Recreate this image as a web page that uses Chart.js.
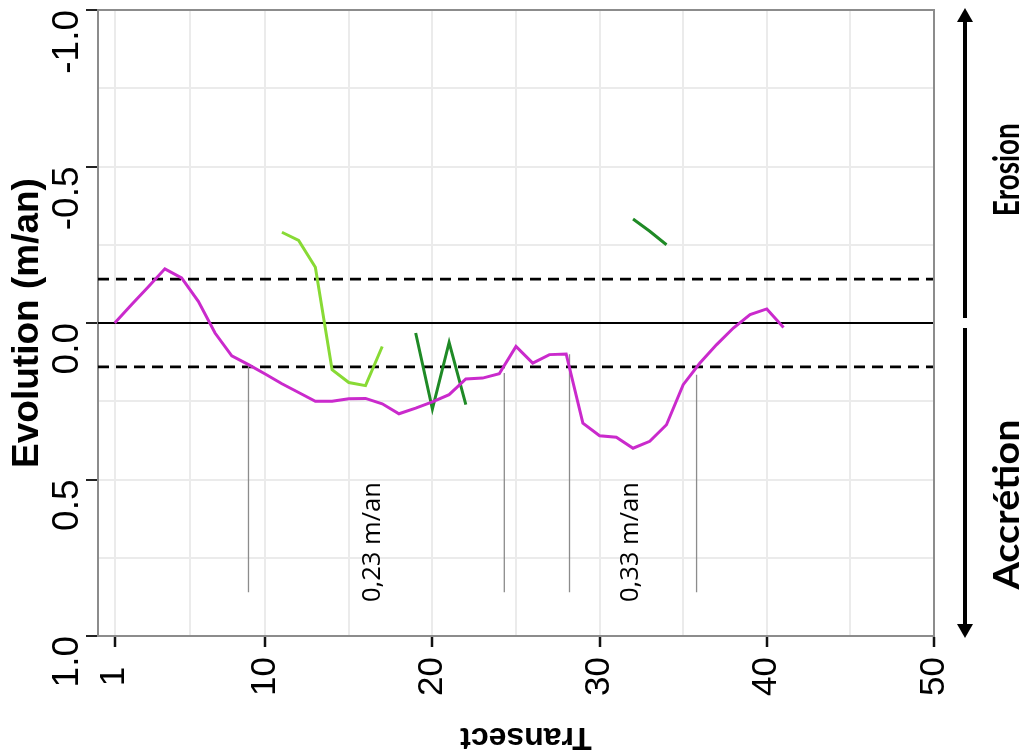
<!DOCTYPE html>
<html>
<head>
<meta charset="utf-8">
<script src="https://cdn.jsdelivr.net/npm/chart.js@4.4.1/dist/chart.umd.min.js"></script>
<style>
  body { margin: 0; background: #fff; }
  #chart { display: block; }
</style>
</head>
<body>
<canvas id="chart" width="1030" height="756"></canvas>
<script>
// transects and yearly shoreline evolution (m/an), negative = erosion
const transects = [1, 2, 3, 4, 5, 6, 7, 8, 9, 10, 11, 12, 13, 14, 15, 16, 17, 18, 19, 20,
    21, 22, 23, 24, 25, 26, 27, 28, 29, 30, 31, 32, 33, 34, 35, 36, 37, 38, 39, 40, 41];
const evolution = [0.0, -0.058, -0.115, -0.173, -0.144, -0.069, 0.032, 0.105, 0.133, 0.163,
    0.194, 0.222, 0.25, 0.25, 0.242, 0.241, 0.258, 0.29, 0.272, 0.252,
    0.229, 0.179, 0.176, 0.162, 0.075, 0.128, 0.101, 0.099, 0.32, 0.36,
    0.365, 0.4, 0.378, 0.325, 0.197, 0.128, 0.069, 0.016, -0.027, -0.045, 0.014];

const transectsLight = [11, 12, 13, 14, 15, 16, 17];
const evolutionLight = [-0.29, -0.264, -0.178, 0.149, 0.19, 0.2, 0.075];

const transectsDarkA = [19, 20, 21, 22];
const evolutionDarkA = [0.032, 0.275, 0.062, 0.261];

const transectsDarkB = [32, 33, 34];
const evolutionDarkB = [-0.332, -0.293, -0.25];

const thresholds = [-0.14, 0.14];

const xTickLabels = [1, 10, 20, 30, 40, 50];
const xGridValues = [1, 5.5, 10, 15, 20, 25, 30, 35, 40, 45, 50];
const yTickLabels = [-1, -0.5, 0, 0.5, 1];

// thin grey markers around the accretion stretches
const markerTransects = [9, 24.3, 28.2, 35.8];
const markerTops = [0.135, 0.16, 0.1, 0.165];
const markerBottom = 0.86;

const rateTexts = ['0,23 m/an', '0,33 m/an'];
const rateTransects = [16.45, 31.9];
const rateLevel = 0.70;

const gridColor = '#ebebeb';
const frameColor = '#8c8c8c';

Chart.defaults.font.family = "'Liberation Sans', Arial, sans-serif";

function pts(xs, ys) {
    return xs.map((x, i) => ({ x: x, y: ys[i] }));
}

const datasets = [
    { data: pts(transects, evolution), borderColor: '#CA2ACC', borderWidth: 3 },
    { data: pts(transectsLight, evolutionLight), borderColor: '#88DA35', borderWidth: 3 },
    { data: pts(transectsDarkA, evolutionDarkA), borderColor: '#1F8A26', borderWidth: 3 },
    { data: pts(transectsDarkB, evolutionDarkB), borderColor: '#1F8A26', borderWidth: 3 }
];
markerTransects.forEach((t, i) => {
    datasets.push({ data: [{ x: t, y: markerTops[i] }, { x: t, y: markerBottom }],
        borderColor: '#8c8c8c', borderWidth: 1.3 });
});
thresholds.forEach(v => {
    datasets.push({ data: [{ x: 0, y: v }, { x: 50, y: v }],
        borderColor: '#000', borderWidth: 2.8, borderDash: [11, 7] });
});
datasets.push({ data: [{ x: 0, y: 0 }, { x: 50, y: 0 }], borderColor: '#000', borderWidth: 2 });

function drawText(ctx, text, cx, cy, angle, font, length) {
    ctx.save();
    ctx.font = font;
    ctx.fillStyle = '#000';
    ctx.textAlign = 'center';
    ctx.textBaseline = 'middle';
    ctx.translate(cx, cy);
    ctx.rotate(angle);
    if (length) ctx.scale(length / ctx.measureText(text).width, 1);
    ctx.fillText(text, 0, 0);
    ctx.restore();
}

const decorations = {
    id: 'decorations',
    afterDraw(chart) {
        const ctx = chart.ctx;
        const a = chart.chartArea;
        const x = chart.scales.x;
        const y = chart.scales.y;
        ctx.save();

        // top and right side of the frame
        ctx.strokeStyle = frameColor;
        ctx.lineWidth = 2;
        ctx.beginPath();
        ctx.moveTo(a.left, a.top);
        ctx.lineTo(a.right, a.top);
        ctx.lineTo(a.right, a.bottom);
        ctx.stroke();

        rateTexts.forEach((t, i) => {
            drawText(ctx, t, x.getPixelForValue(rateTransects[i]), y.getPixelForValue(rateLevel),
                -Math.PI / 2, "25px 'Open Sans'", 120);
        });

        // x title is upside down in the original
        drawText(ctx, 'Transect', (a.left + a.right) / 2 + 10, a.bottom + 101, Math.PI,
            "bold 32px 'Liberation Sans'");

        // erosion / accretion double arrow
        const ax = a.right + 31;
        const top = y.getPixelForValue(-1) - 2;
        const bottom = y.getPixelForValue(1) + 2;
        const mid = y.getPixelForValue(0);
        ctx.strokeStyle = '#000';
        ctx.fillStyle = '#000';
        ctx.lineWidth = 4;
        ctx.beginPath();
        ctx.moveTo(ax, top + 10);
        ctx.lineTo(ax, mid - 5);
        ctx.moveTo(ax, mid + 5);
        ctx.lineTo(ax, bottom - 10);
        ctx.stroke();
        [[top, 1], [bottom, -1]].forEach(([tip, dir]) => {
            ctx.beginPath();
            ctx.moveTo(ax, tip);
            ctx.lineTo(ax - 8, tip + 14 * dir);
            ctx.lineTo(ax + 8, tip + 14 * dir);
            ctx.closePath();
            ctx.fill();
        });

        drawText(ctx, 'Erosion', ax + 42, y.getPixelForValue(-0.49), -Math.PI / 2, "bold 37px Lato", 93);
        drawText(ctx, 'Accrétion', ax + 42, y.getPixelForValue(0.58), -Math.PI / 2, "bold 37px Lato", 170);

        ctx.restore();
    }
};

new Chart(document.getElementById('chart'), {
    type: 'line',
    data: { datasets: datasets },
    options: {
        responsive: false,
        animation: false,
        devicePixelRatio: 1,
        layout: { padding: { left: 0, top: 10, right: 96, bottom: 0 } },
        plugins: { legend: { display: false }, tooltip: { enabled: false } },
        elements: { point: { radius: 0 }, line: { tension: 0, fill: false } },
        scales: {
            x: {
                type: 'linear',
                min: 0,
                max: 50,
                afterBuildTicks: s => { s.ticks = xGridValues.map(v => ({ value: v })); },
                afterFit: s => { s.height = 120; s.paddingLeft = 0; s.paddingRight = 0; },
                border: { color: frameColor, width: 2 },
                grid: {
                    color: gridColor,
                    lineWidth: 2,
                    tickLength: 11,
                    tickWidth: 2.5,
                    tickColor: c => c.tick && xTickLabels.includes(c.tick.value) ? '#111' : 'transparent'
                },
                ticks: {
                    autoSkip: false,
                    minRotation: 90,
                    maxRotation: 90,
                    padding: 10,
                    color: '#000',
                    font: { size: 35 },
                    callback: v => xTickLabels.includes(v) ? (v === 1 ? '1 ' : String(v)) : ''
                }
            },
            y: {
                min: -1,
                max: 1,
                reverse: true,
                afterFit: s => { s.width = 98; s.paddingTop = 0; s.paddingBottom = 0; },
                border: { color: frameColor, width: 2 },
                grid: {
                    color: gridColor,
                    lineWidth: 2,
                    tickLength: 12,
                    tickWidth: 2,
                    tickColor: c => c.tick && yTickLabels.includes(c.tick.value) ? '#222' : 'transparent'
                },
                ticks: {
                    stepSize: 0.25,
                    minRotation: 90,
                    padding: 18,
                    color: '#000',
                    font: { size: 37 },
                    callback: v => yTickLabels.includes(v) ? v.toFixed(1) : ''
                },
                title: {
                    display: true,
                    text: 'Evolution (m/an)',
                    color: '#000',
                    font: { size: 37, weight: 'bold' },
                    padding: { top: 6, bottom: 0 }
                }
            }
        }
    },
    plugins: [decorations]
});
</script>
</body>
</html>
